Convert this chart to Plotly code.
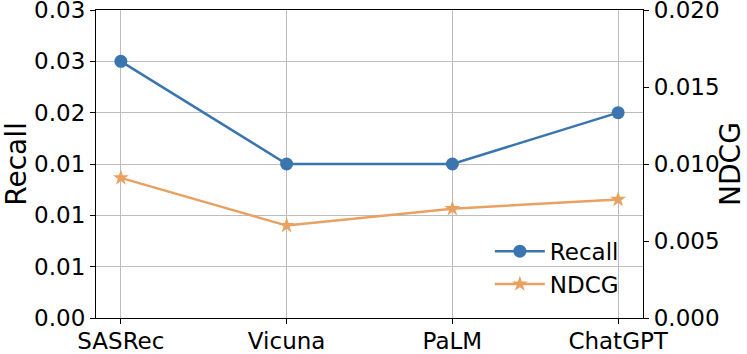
import plotly.graph_objects as go

# datos
modelos = ["SASRec", "Vicuna", "PaLM", "ChatGPT"]
recall = [0.025, 0.015, 0.015, 0.020]
ndcg = [0.0091, 0.0060, 0.0071, 0.0077]

recall_marcas = [0, 0.005, 0.010, 0.015, 0.020, 0.025, 0.030]
recall_textos = ["0.00", "0.01", "0.01", "0.01", "0.02", "0.03", "0.03"]
ndcg_marcas = [0, 0.005, 0.010, 0.015, 0.020]
ndcg_textos = ["0.000", "0.005", "0.010", "0.015", "0.020"]

AZUL = "#3b75af"
NARANJA = "#e8a160"
REJILLA = "#bdbdbd"
FUENTE = 23

fig = go.Figure()

fig.add_trace(
    go.Scatter(
        x=modelos,
        y=recall,
        name="Recall",
        mode="lines+markers",
        line=dict(color=AZUL, width=2.5),
        marker=dict(symbol="circle", size=13, color=AZUL),
    )
)

fig.add_trace(
    go.Scatter(
        x=modelos,
        y=ndcg,
        name="NDCG",
        yaxis="y2",
        mode="lines+markers",
        line=dict(color=NARANJA, width=2.5),
        marker=dict(symbol="star", size=12, color=NARANJA),
    )
)

fig.update_xaxes(
    range=[-0.15, 3.15],
    showgrid=True,
    gridcolor=REJILLA,
    gridwidth=1,
    showline=True,
    linecolor="black",
    linewidth=1.2,
    mirror=True,
    ticks="outside",
    ticklen=5,
    tickcolor="black",
    tickfont_size=FUENTE,
    ticklabelstandoff=-3,
    zeroline=False,
    automargin=False,
    ticklabeloverflow="allow",
)

fig.update_layout(
    width=747,
    height=354,
    font_family="DejaVu Sans",
    font_color="black",
    font_size=FUENTE,
    plot_bgcolor="white",
    paper_bgcolor="white",
    margin=dict(l=96, r=104, t=10, b=36),
    yaxis=dict(
        title=dict(text="Recall", standoff=6),
        range=[0, 0.03],
        tickvals=recall_marcas,
        ticktext=recall_textos,
        tickfont_size=FUENTE,
        showgrid=True,
        gridcolor=REJILLA,
        gridwidth=1,
        showline=True,
        linecolor="black",
        linewidth=1.2,
        ticks="outside",
        ticklen=5,
        tickcolor="black",
        zeroline=False,
        automargin=False,
        ticklabeloverflow="allow",
    ),
    yaxis2=dict(
        title=dict(text="NDCG", standoff=6),
        overlaying="y",
        side="right",
        range=[0, 0.02],
        tickvals=ndcg_marcas,
        ticktext=ndcg_textos,
        tickfont_size=FUENTE,
        showgrid=False,
        showline=True,
        linecolor="black",
        linewidth=1.2,
        ticks="outside",
        ticklen=5,
        tickcolor="black",
        zeroline=False,
        automargin=False,
        ticklabeloverflow="allow",
    ),
    legend=dict(
        x=0.965,
        y=0.04,
        xanchor="right",
        yanchor="bottom",
        bgcolor="rgba(255,255,255,0)",
        font_size=FUENTE,
        itemwidth=50,
    ),
)

# quitamos el margen de 8 px del body para que la figura ocupe toda la ventana
fig.write_html(
    "out.html",
    config={"displayModeBar": False},
    post_script="document.body.style.margin = '0';",
)
